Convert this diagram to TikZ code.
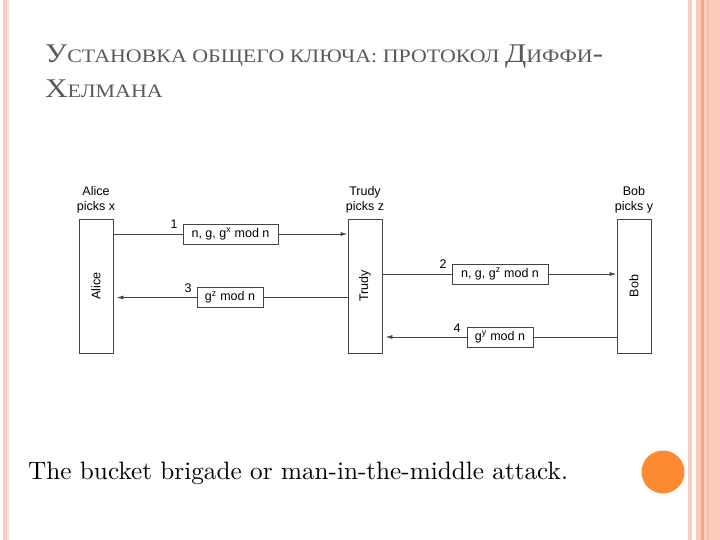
\documentclass[tikz,border=0pt]{standalone}
\usepackage{fontspec}
\newfontfamily\diagfont{Liberation Sans}
\newfontfamily\titlefont[FakeStretch=1.155]{Liberation Serif}
\newfontfamily\capfont{lmroman10-regular.otf}
\usetikzlibrary{arrows.meta}
\definecolor{titlegray}{HTML}{5A5A5A}
\definecolor{linegray}{HTML}{444444}
\definecolor{stripeA}{HTML}{F8CDBE}
\definecolor{stripeB}{HTML}{FCCBB9}
\definecolor{stripeC}{HTML}{F0A88D}
\definecolor{stripeD}{HTML}{F7BCA6}
\definecolor{dotorange}{HTML}{FB8A33}
\newcommand{\bigc}[1]{{\fontsize{27}{35}\selectfont #1}}
\newcommand{\smc}[1]{{\fontsize{19}{35}\selectfont #1}}
\tikzset{
  actor/.style={draw=linegray, line width=0.9pt, minimum width=34pt, minimum height=134pt, inner sep=0pt},
  msgbox/.style={draw=linegray, line width=0.9pt, fill=white, minimum height=20pt, inner sep=0pt, font=\diagfont\fontsize{12.5}{14}\selectfont},
  msg/.style={draw=linegray, line width=0.9pt},
  msgarrow/.style={msg, -{Latex[length=7pt,width=4pt]}},
  hdr/.style={align=center, font=\diagfont\fontsize{12.5}{14.5}\selectfont, inner sep=0pt},
  num/.style={font=\diagfont\fontsize{12.5}{14}\selectfont, inner sep=0pt},
  vlabel/.style={rotate=90, font=\diagfont\fontsize{12.5}{14}\selectfont, inner sep=0pt}
}
\begin{document}
\begin{tikzpicture}[x=1pt,y=-1pt]
\useasboundingbox (0,0) rectangle (720,540);
% borders
\fill[stripeA] (3,0) rectangle (7,540);
\fill[stripeA!60] (7,0) rectangle (9,540);
\fill[stripeA] (688,0) rectangle (692,540);
\fill[stripeB] (696,0) rectangle (720,540);
\fill[stripeC] (701,0) rectangle (703.5,540);
\fill[stripeD] (707,0) rectangle (709,540);
% title
\node[anchor=base west, inner sep=0pt, text=titlegray, font=\titlefont] (title1) at (45,63)
  {\bigc{У}\smc{СТАНОВКА ОБЩЕГО КЛЮЧА: ПРОТОКОЛ }\bigc{Д}\smc{ИФФИ}\bigc{-}};
\node[anchor=base west, inner sep=0pt, text=titlegray, font=\titlefont] (title2) at (45,98)
  {\bigc{Х}\smc{ЕЛМАНА}};
% actors
\node[actor] (alice) at (96,286) {};
\node[actor] (trudy) at (365,286) {};
\node[actor] (bob) at (634,286) {};
\node[vlabel] (alicev) at (alice) {Alice};
\node[vlabel] (trudyv) at (trudy) {Trudy};
\node[vlabel] (bobv) at (bob) {Bob};
\node[hdr] (aliceh) at (96,200) {Alice\\picks x};
\node[hdr] (trudyh) at (365,200) {Trudy\\picks z};
\node[hdr] (bobh) at (634,200) {Bob\\picks y};
% messages
\node[msgbox, minimum width=95pt] (m1) at (230.5,234) {n, g, g\textsuperscript{x} mod n};
\node[msgbox, minimum width=66pt] (m3) at (230,297.5) {g\textsuperscript{z} mod n};
\node[msgbox, minimum width=96pt] (m2) at (500,274) {n, g, g\textsuperscript{z} mod n};
\node[msgbox, minimum width=66pt] (m4) at (500,337) {g\textsuperscript{y} mod n};
\node[num] (n1) at (174,224) {1};
\node[num] (n3) at (188,288) {3};
\node[num] (n2) at (443,264) {2};
\node[num] (n4) at (457,328) {4};
\draw[msg] (alice.east |- m1) -- (m1.west);
\draw[msgarrow] (m1.east) -- (trudy.west |- m1);
\draw[msg] (trudy.west |- m3) -- (m3.east);
\draw[msgarrow, shorten >=3pt] (m3.west) -- (alice.east |- m3);
\draw[msg] (trudy.east |- m2) -- (m2.west);
\draw[msgarrow] (m2.east) -- (bob.west |- m2);
\draw[msg] (bob.west |- m4) -- (m4.east);
\draw[msgarrow, shorten >=3pt] (m4.west) -- (trudy.east |- m4);
% caption
\node[anchor=base west, inner sep=0pt, font=\capfont\fontsize{25.2}{30}\selectfont] (caption) at (28,479)
  {The bucket brigade or man-in-the-middle attack.};
% dot
\fill[dotorange] (663,472) circle (21.5);
\end{tikzpicture}
\end{document}
